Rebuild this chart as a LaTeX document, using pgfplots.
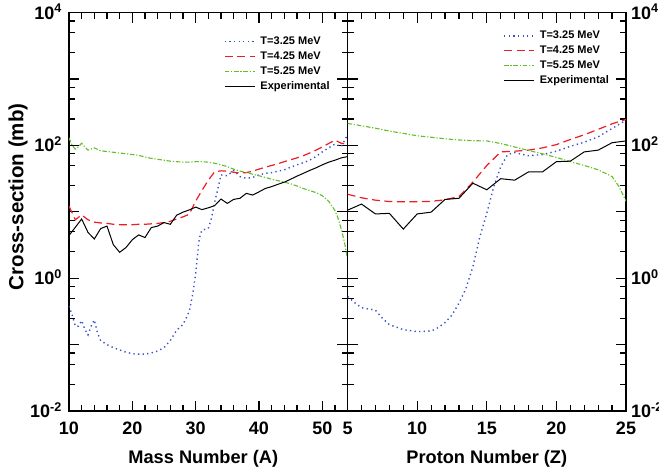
\documentclass[border=0pt]{standalone}
\usepackage{fontspec}
\setmainfont{Liberation Sans}
\usepackage{pgfplots}
\pgfplotsset{compat=1.18}

\definecolor{c325}{RGB}{50,80,200}
\definecolor{c425}{RGB}{238,28,36}
\definecolor{c525}{RGB}{100,190,40}

\tikzset{
  s325/.style={c325, line width=1.4bp, dash pattern=on 1.3bp off 3.3bp},
  s425/.style={c425, line width=1.2bp, dash pattern=on 8bp off 4.5bp},
  s525/.style={c525, line width=1.1bp, dash pattern=on 4.5bp off 1.8bp on 1.2bp off 1.8bp},
  sexp/.style={black, line width=1bp, solid},
}
\newcommand{\ticksize}{\bfseries\fontsize{18bp}{20bp}\selectfont}
\newcommand{\legsize}{\bfseries\fontsize{11bp}{13bp}\selectfont}

\begin{document}
\begin{tikzpicture}
\useasboundingbox (-69bp,-65bp) rectangle (590bp,411bp);

% ---- cross sections against mass number ----
\begin{axis}[
  at={(0bp,0bp)}, anchor=south west,
  scale only axis, width=278.6bp, height=398.3bp,
  ymode=log, ymin=1e-2, ymax=1e4,
  xmin=10, xmax=54,
  axis line style={line width=1.5bp},
  every tick/.style={black, line width=1.2bp},
  major tick length=10.5bp, minor tick length=6bp,
  tick align=inside, tick pos=both,
  xtick={10,20,30,40,50},
  minor xtick={12,14,16,18,22,24,26,28,32,34,36,38,42,44,46,48,52},
  ytick={1e-2,1e-1,1,1e1,1e2,1e3,1e4},
  minor ytick={0.025,0.05,0.075,0.25,0.5,0.75,2.5,5,7.5,25,50,75,250,500,750,2500,5000,7500},
  xticklabels={10,20,30,40,50},
  yticklabels={10\textsuperscript{-2},,10\textsuperscript{0},,10\textsuperscript{2},,10\textsuperscript{4}},
  xticklabel style={font=\ticksize, anchor=north, inner sep=0pt, yshift=-10.7bp},
  yticklabel pos=left,
  yticklabel style={font=\ticksize, inner sep=0pt, anchor=base east, xshift=-7bp, yshift=-6.5bp},
  xlabel={Mass Number (A)},
  every axis x label/.style={at={(axis description cs:0.5,0)}, anchor=center,
    xshift=-5bp, yshift=-48bp, font=\bfseries\fontsize{18.2bp}{20bp}\selectfont},
  ylabel={Cross-section (mb)},
  every axis y label/.style={at={(axis description cs:0,0.5)}, anchor=center,
    xshift=-51bp, yshift=15bp, rotate=90,
    font=\bfseries\fontsize{20.5bp}{22bp}\selectfont},
  legend image code/.code={\draw[#1] (0bp,0bp) -- (30bp,0bp);},
  legend style={draw=none, fill=none, inner sep=0pt, row sep=5bp, column sep=5bp,
    font=\legsize, nodes={inner sep=0pt, text height=8bp, text depth=2bp},
    at={(axis description cs:0.556,0.94)}, anchor=north west},
  legend cell align=left,
]
\addplot[s325] table {
A sigma
10 0.38
10.5 0.28
11 0.19
11.5 0.19
12 0.23
12.5 0.17
13 0.14
13.5 0.19
14 0.235
14.5 0.15
15 0.115
16 0.10
17 0.09
18 0.083
19 0.077
20 0.073
21 0.072
22 0.072
23 0.075
24 0.08
25 0.09
26 0.115
27 0.165
28 0.20
28.5 0.25
29 0.32
29.5 0.55
30 1.15
30.25 2.0
30.5 3.5
30.75 4.6
31 5.3
32 5.6
32.5 8.0
33 14
33.5 22
34 36
35 35
36 42
37 34
38 32
39 33
40 36
41 38
42 39
43 41
44 43
45 47
46 51
47 55
48 60
49 68
50 80
51 92
52 105
53 96
54 145
};
\addlegendentry{T=3.25 MeV}
\addplot[s425] table {
A sigma
10 12.2
11 7.6
12 9.0
13 7.6
14 7.0
15 6.8
16 6.7
17 6.5
18 6.4
19 6.4
20 6.4
21 6.5
22 6.5
23 6.6
24 6.7
25 6.9
26 7.2
27 7.8
28 8.4
29 9.2
30 14.5
31 21
32 30
33 40
34 41.5
35 41
36 39.5
37 38.5
38 39
39 41
40 44
41 47
42 50
43 53
44 57
45 61
46 65
47 70
48 77
49 85
50 95
51 107
52 120
53 108
54 104
};
\addlegendentry{T=4.25 MeV}
\addplot[s525] table {
A sigma
10 130
10.5 100
11 88
11.5 96
12 108
12.5 95
13 85
14 92
15 83
16 81
17 79
18 77
19 75
20 73
21 71
22 67
23 64
24 62
25 60
26 58
27 57
28 56
29 56
30 57
31 57
32 56
33 54
34 51
35 48
36 44
37 41
38 39
39 37
40 35
41 33
42 31
43 29.5
44 28
45 26.5
46 24.5
47 22.5
48 21
49 19.5
50 17.5
51 14.5
52 10.5
52.5 8
53 5.5
53.5 3.5
54 1.9
};
\addlegendentry{T=5.25 MeV}
\addplot[sexp] table {
A sigma
10 4.4
12 7.8
13 4.9
14 3.9
15 5.6
16 6.1
17 3.2
18 2.46
19 2.9
20 3.8
21 4.5
22 4.1
23 5.8
24 6.1
25 6.9
26 6.5
27 8.9
28 9.9
29 10.7
30 11.8
31 10.8
32 11.5
33 12.4
34 15.6
35 13.4
36 15.4
37 16
38 19
39 17.9
40 20
41 22.5
42 24
43 26
44 28
45 31
46 34.5
47 38
48 42
49 46
50 51
51 56
52 60
53 65
54 68
};
\addlegendentry{Experimental}
\end{axis}

% ---- cross sections against proton number ----
\begin{axis}[
  at={(278.6bp,0bp)}, anchor=south west,
  scale only axis, width=278.4bp, height=398.3bp,
  ymode=log, ymin=1e-2, ymax=1e4,
  xmin=5, xmax=25,
  axis line style={line width=1.5bp},
  every tick/.style={black, line width=1.2bp},
  major tick length=10.5bp, minor tick length=6bp,
  tick align=inside, tick pos=both,
  xtick={5,10,15,20,25},
  minor xtick={6,7,8,9,11,12,13,14,16,17,18,19,21,22,23,24},
  ytick={1e-2,1e-1,1,1e1,1e2,1e3,1e4},
  minor ytick={0.025,0.05,0.075,0.25,0.5,0.75,2.5,5,7.5,25,50,75,250,500,750,2500,5000,7500},
  xticklabels={5,10,15,20,25},
  yticklabels={10\textsuperscript{-2},,10\textsuperscript{0},,10\textsuperscript{2},,10\textsuperscript{4}},
  xticklabel style={font=\ticksize, anchor=north, inner sep=0pt, yshift=-10.7bp},
  yticklabel pos=right,
  yticklabel style={font=\ticksize, inner sep=0pt, anchor=base west, xshift=5bp, yshift=-6.5bp},
  xlabel={Proton Number (Z)},
  every axis x label/.style={at={(axis description cs:0.5,0)}, anchor=center,
    yshift=-48bp, font=\bfseries\fontsize{18.2bp}{20bp}\selectfont},
  legend image code/.code={\draw[#1] (0bp,0bp) -- (30bp,0bp);},
  legend style={draw=none, fill=none, inner sep=0pt, row sep=5bp, column sep=5bp,
    font=\legsize, nodes={inner sep=0pt, text height=8bp, text depth=2bp},
    at={(axis description cs:0.559,0.955)}, anchor=north west},
  legend cell align=left,
]
\addplot[s325] table {
Z sigma
5 0.53
5.5 0.43
6 0.36
7 0.33
7.5 0.25
8 0.20
9 0.168
10 0.157
11 0.16
11.5 0.18
12 0.215
12.5 0.28
13 0.42
13.5 0.70
14 1.5
14.5 4.2
15 9.5
15.5 24
16 48
16.5 73
17 78
18 70
19 73
20 82
21 97
22 112
23 135
24 180
25 240
};
\addlegendentry{T=3.25 MeV}
\addplot[s425] table {
Z sigma
5 18.4
6 16.3
7 15
8 14.3
9 14.2
10 14.2
11 14.4
12 15.2
13 17
14 28
15 50
16 80
17 82
18 85
19 92
20 103
21 123
22 145
23 175
24 212
25 247
};
\addlegendentry{T=4.25 MeV}
\addplot[s525] table {
Z sigma
5 215
6 198
7 182
8 165
9 152
10 140
11 133
12 126
13 121
14 118
15 117
16 107
17 95
18 84
19 75
20 66
21 57
22 50
23 43
24 34
24.5 24
25 14.5
};
\addlegendentry{T=5.25 MeV}
\addplot[sexp] table {
Z sigma
5 10.6
6 13.1
7 9.3
8 9.5
9 5.5
10 9.3
11 9.9
12 15.4
13 16
14 27
15 21.5
16 31.6
17 30
18 40
19 40
20 57
21 58
22 80
23 85
24 110
25 117
};
\addlegendentry{Experimental}
\end{axis}
\end{tikzpicture}
\end{document}
